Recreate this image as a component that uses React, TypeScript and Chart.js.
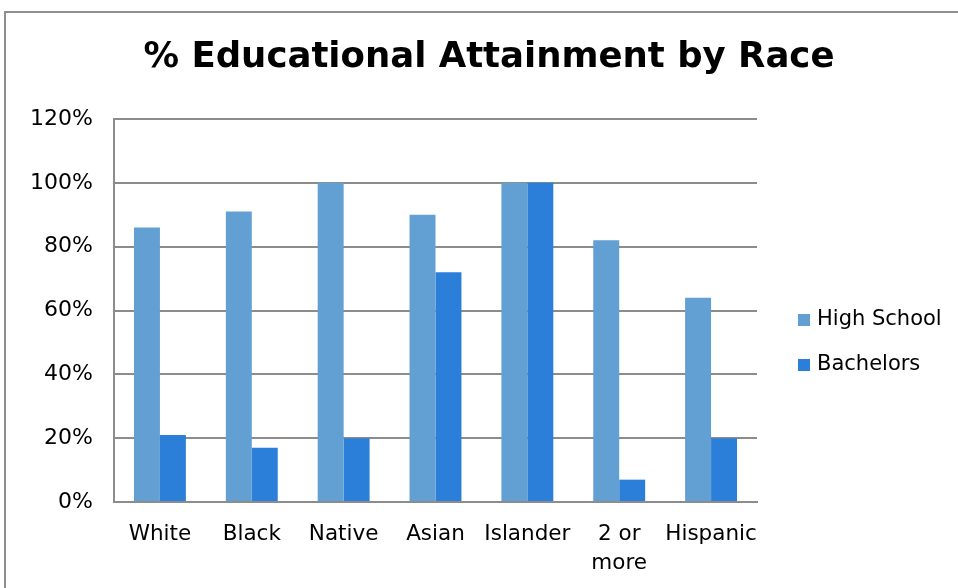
import React, { useEffect, useRef } from "react";
import { Chart, registerables } from "chart.js";

Chart.register(...registerables);

const categories: (string | string[])[] = ["White", "Black", "Native", "Asian", "Islander", ["2 or", "more"], "Hispanic"];
const highSchool = [86, 91, 100, 90, 100, 82, 64];
const bachelors = [21, 17, 20, 72, 100, 7, 20];
const seriesNames = ["High School", "Bachelors"];
const seriesColors = ["#629FD3", "#2B7FD8"];
const titleText = "% Educational Attainment by Race";

const GRID = "#8c8c8c";
const TEXT_FONT = "'DejaVu Sans', sans-serif";

const sideLegend = {
  id: "sideLegend",
  afterDraw(chart: any) {
    const { ctx, chartArea } = chart;
    const x = chartArea.right + 41;
    const mid = (chartArea.top + chartArea.bottom) / 2 + 32;
    const gap = 45;
    const n = chart.data.datasets.length;
    ctx.save();
    ctx.font = `21px ${TEXT_FONT}`;
    ctx.textBaseline = "middle";
    chart.data.datasets.forEach((ds: any, i: number) => {
      const y = mid + (i - (n - 1) / 2) * gap;
      ctx.fillStyle = ds.backgroundColor;
      ctx.fillRect(x, y - 6, 12, 12);
      ctx.fillStyle = "#000";
      ctx.fillText(ds.label, x + 19, y);
    });
    ctx.restore();
  },
};

export default function App() {
  const ref = useRef<HTMLCanvasElement>(null);
  useEffect(() => {
    if (!ref.current) return;
    const chart = new Chart(ref.current, {
      type: "bar",
      data: {
        labels: categories,
        datasets: [
          { label: seriesNames[0], data: highSchool, backgroundColor: seriesColors[0] },
          { label: seriesNames[1], data: bachelors, backgroundColor: seriesColors[1] },
        ],
      },
      options: {
        animation: false,
        responsive: false,
        devicePixelRatio: 1,
        layout: { padding: { left: 30, right: 10, top: 0, bottom: 0 } },
        datasets: { bar: { categoryPercentage: 0.565, barPercentage: 1 } },
        plugins: {
          legend: { display: false },
          tooltip: { enabled: false },
          title: {
            display: true,
            text: titleText,
            color: "#000",
            font: { family: TEXT_FONT, size: 35.5, weight: "bold", lineHeight: 1.2 },
            padding: { top: 36, bottom: 40.4 },
          },
        },
        scales: {
          x: {
            grid: { display: false, drawTicks: false },
            border: { display: true, color: GRID, width: 2 },
            ticks: { color: "#000", font: { family: TEXT_FONT, size: 21.5, lineHeight: 1.35 }, padding: 18, maxRotation: 0, autoSkip: false },
            afterFit: (s: any) => { s.height = 86; },
          },
          y: {
            min: 0,
            max: 120,
            ticks: { stepSize: 20, color: "#000", font: { family: TEXT_FONT, size: 22 }, padding: 21, callback: (v: any) => v + "%" },
            grid: { color: GRID, lineWidth: 2, drawTicks: false },
            border: { display: true, color: GRID, width: 2 },
            afterFit: (s: any) => { s.width = 84; },
          },
          legendSpace: {
            type: "linear",
            position: "right",
            display: true,
            grid: { display: false },
            border: { display: false },
            ticks: { display: false },
            afterFit: (s: any) => { s.width = 191; },
          },
        },
      } as any,
      plugins: [sideLegend],
    });
    return () => chart.destroy();
  }, []);
  return (
    <>
      <div style={{ position: "fixed", left: 4, top: 11, width: 980, height: 620, border: "2px solid #8f8f8f", boxSizing: "border-box" }} />
      <canvas ref={ref} width={958} height={588} style={{ position: "fixed", left: 0, top: 0, width: 958, height: 588 }} />
    </>
  );
}
